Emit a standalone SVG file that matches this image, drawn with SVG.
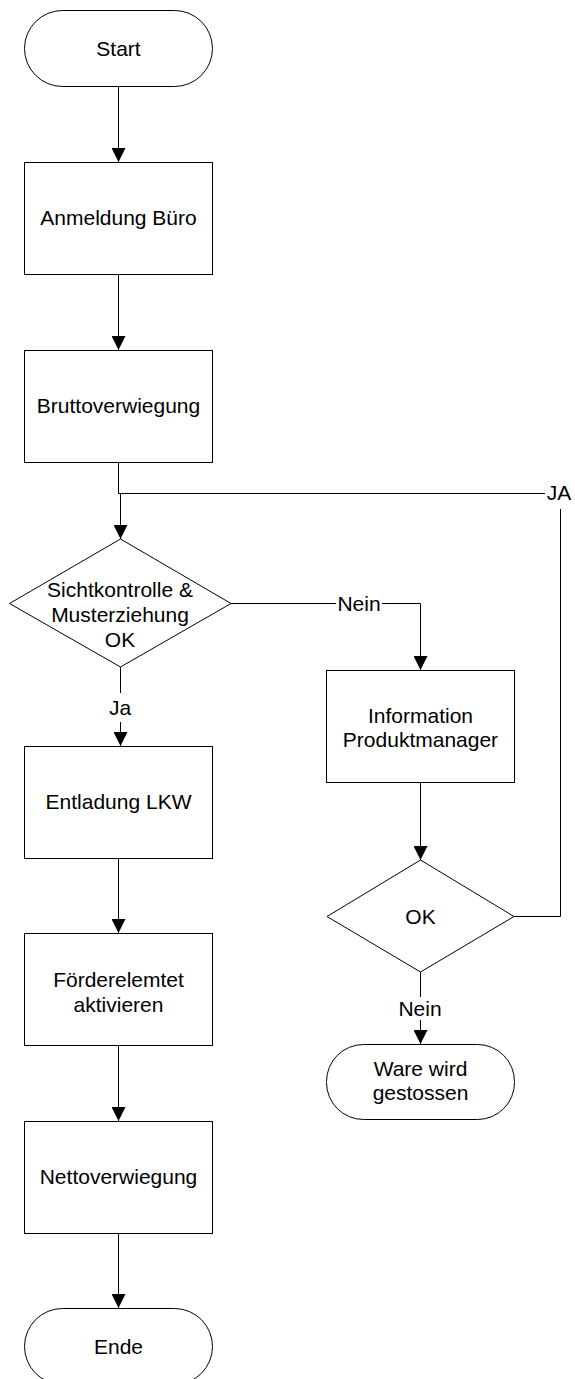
<svg xmlns="http://www.w3.org/2000/svg" width="575" height="1379" viewBox="0 0 575 1379">
  <style>
    .shape { fill: #ffffff; stroke: #000000; stroke-width: 1; }
    .conn { fill: none; stroke: #000000; stroke-width: 1; }
    .lbl { font-family: "Liberation Sans", Arial, sans-serif; font-size: 21px; fill: #000000; text-anchor: middle; }
  </style>
  <defs>
    <marker id="arrow" viewBox="0 0 14 14" refX="14" refY="7" markerWidth="14" markerHeight="14" markerUnits="userSpaceOnUse" orient="auto">
      <path d="M0,0 L14,7 L0,14 z" fill="#000000"/>
    </marker>
  </defs>
  <rect width="575" height="1379" fill="#ffffff"/>

  <!-- connectors -->
  <g id="connectors">
    <line class="conn" x1="118.5" y1="86" x2="118.5" y2="162" marker-end="url(#arrow)"/>
    <line class="conn" x1="118.5" y1="275" x2="118.5" y2="350" marker-end="url(#arrow)"/>
    <polyline class="conn" points="118.5,463 118.5,493.5 120.5,493.5 120.5,539" marker-end="url(#arrow)"/>
    <!-- Ja -->
    <line class="conn" x1="120.5" y1="667" x2="120.5" y2="693"/>
    <text class="lbl" x="120" y="715">Ja</text>
    <line class="conn" x1="120.5" y1="722" x2="120.5" y2="746" marker-end="url(#arrow)"/>
    <line class="conn" x1="118.5" y1="858" x2="118.5" y2="933" marker-end="url(#arrow)"/>
    <line class="conn" x1="118.5" y1="1046" x2="118.5" y2="1121" marker-end="url(#arrow)"/>
    <line class="conn" x1="118.5" y1="1234" x2="118.5" y2="1308" marker-end="url(#arrow)"/>
    <!-- Nein (first decision) -->
    <line class="conn" x1="231" y1="603.5" x2="336" y2="603.5"/>
    <text class="lbl" x="359" y="611">Nein</text>
    <polyline class="conn" points="382,603.5 420.5,603.5 420.5,670" marker-end="url(#arrow)"/>
    <line class="conn" x1="420.5" y1="783" x2="420.5" y2="860" marker-end="url(#arrow)"/>
    <!-- Nein (second decision) -->
    <line class="conn" x1="420.5" y1="972" x2="420.5" y2="997"/>
    <text class="lbl" x="420" y="1016">Nein</text>
    <line class="conn" x1="420.5" y1="1020" x2="420.5" y2="1044" marker-end="url(#arrow)"/>
    <!-- JA loop back -->
    <polyline class="conn" points="514,916.5 560.5,916.5 560.5,509"/>
    <text class="lbl" x="559" y="500">JA</text>
    <line class="conn" x1="545" y1="493.5" x2="120.5" y2="493.5"/>
  </g>

  <g id="start">
    <rect class="shape" x="24.5" y="10.5" width="188" height="76" rx="38" ry="38"/>
    <text class="lbl" x="118.5" y="56">Start</text>
  </g>

  <g id="anmeldung">
    <rect class="shape" x="24.5" y="162.5" width="188" height="112"/>
    <text class="lbl" x="118.5" y="225">Anmeldung Büro</text>
  </g>

  <g id="brutto">
    <rect class="shape" x="24.5" y="350.5" width="188" height="112"/>
    <text class="lbl" x="118.5" y="413">Bruttoverwiegung</text>
  </g>

  <g id="sichtkontrolle">
    <polygon class="shape" points="120.5,539 231,603.5 120.5,667 9.5,603.5"/>
    <text class="lbl" x="120" y="597">Sichtkontrolle &amp;</text>
    <text class="lbl" x="120" y="622">Musterziehung</text>
    <text class="lbl" x="120" y="647">OK</text>
  </g>

  <g id="entladung">
    <rect class="shape" x="24.5" y="746.5" width="188" height="112"/>
    <text class="lbl" x="118.5" y="809">Entladung LKW</text>
  </g>

  <g id="foerder">
    <rect class="shape" x="24.5" y="933.5" width="188" height="112"/>
    <text class="lbl" x="118.5" y="987">Förderelemtet</text>
    <text class="lbl" x="118.5" y="1012">aktivieren</text>
  </g>

  <g id="netto">
    <rect class="shape" x="24.5" y="1121.5" width="188" height="112"/>
    <text class="lbl" x="118.5" y="1184">Nettoverwiegung</text>
  </g>

  <g id="ende">
    <rect class="shape" x="24.5" y="1308.5" width="188" height="76" rx="38" ry="38"/>
    <text class="lbl" x="118.5" y="1354">Ende</text>
  </g>

  <g id="information">
    <rect class="shape" x="326.5" y="670.5" width="188" height="112"/>
    <text class="lbl" x="420.5" y="723">Information</text>
    <text class="lbl" x="420.5" y="747">Produktmanager</text>
  </g>

  <g id="ok">
    <polygon class="shape" points="420.5,860 514,916.5 420.5,972 327,916.5"/>
    <text class="lbl" x="420.5" y="924">OK</text>
  </g>

  <g id="ware">
    <rect class="shape" x="326.5" y="1044.5" width="188" height="75" rx="37" ry="37"/>
    <text class="lbl" x="420.5" y="1076">Ware wird</text>
    <text class="lbl" x="420.5" y="1100">gestossen</text>
  </g>
</svg>
